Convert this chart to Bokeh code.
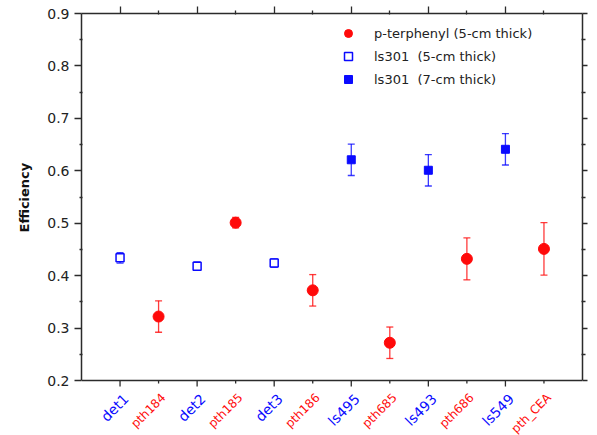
import math
from bokeh.plotting import figure
from bokeh.models import (ColumnDataSource, Whisker, LinearAxis, FixedTicker, Range1d,
                          Legend, LegendItem, Span, Title)
from bokeh.core.properties import value
from bokeh.embed import file_html
from bokeh.resources import INLINE

# Detector order along the x axis
categories = ["det1", "pth184", "det2", "pth185", "det3", "pth186",
              "ls495", "pth685", "ls493", "pth686", "ls549", "pth_CEA"]
label_colors = ["blue", "red", "blue", "red", "blue", "red",
                "blue", "red", "blue", "red", "blue", "red"]

# p-terphenyl (5-cm thick)
pt_names = ["pth184", "pth185", "pth186", "pth685", "pth686", "pth_CEA"]
pt_eff = [0.322, 0.501, 0.372, 0.272, 0.432, 0.451]
pt_err = [0.030, 0.010, 0.030, 0.030, 0.040, 0.050]

# ls301 (5-cm thick)
ls5_names = ["det1", "det2", "det3"]
ls5_eff = [0.434, 0.418, 0.424]
ls5_err = [0.010, 0.008, 0.008]

# ls301 (7-cm thick)
ls7_names = ["ls495", "ls493", "ls549"]
ls7_eff = [0.621, 0.601, 0.641]
ls7_err = [0.030, 0.030, 0.030]

Y_MIN, Y_MAX = 0.2, 0.9
RED = "#ff0a0a"
BLUE = "#0a0aff"
AXIS = "#2b2b2b"
FONT = "DejaVu Sans"

# page layout in pixels
W, H = 597, 435
LEFT, RIGHT, TOP = 81, 15, 13
AXIS_BOTTOM = 380                     # pixel row of the y = 0.2 axis line
LEGEND_TOP = 23
frame_w = W - LEFT - RIGHT
frame_h = H - TOP
plot_h = AXIS_BOTTOM - TOP
below_h = H - AXIS_BOTTOM
n = len(categories)
x_per_px = (n + 1) / frame_w
y_per_px = (Y_MAX - Y_MIN) / plot_h

pos = {name: i + 1 for i, name in enumerate(categories)}


def source(names, eff, err):
    return ColumnDataSource(dict(
        x=[pos[c] for c in names], y=eff,
        lo=[e - d for e, d in zip(eff, err)],
        hi=[e + d for e, d in zip(eff, err)],
    ))


pt_src = source(pt_names, pt_eff, pt_err)
ls5_src = source(ls5_names, ls5_eff, ls5_err)
ls7_src = source(ls7_names, ls7_eff, ls7_err)

# the frame reaches the bottom of the page so the coloured category
# names can be drawn under the x axis line
p = figure(width=W, height=H, output_backend="svg", toolbar_location=None,
           x_range=Range1d(0, n + 1),
           y_range=Range1d(Y_MIN - below_h * y_per_px, Y_MAX),
           min_border_left=LEFT, min_border_right=RIGHT, min_border_top=TOP,
           min_border_bottom=0, outline_line_color=None)
p.xgrid.visible = False
p.ygrid.visible = False
p.xaxis.visible = False

# error bars
for src, col in ((pt_src, RED), (ls5_src, BLUE), (ls7_src, BLUE)):
    w = Whisker(source=src, base="x", lower="lo", upper="hi",
                line_color=col, line_width=1.3, line_alpha=0.8)
    for head in (w.upper_head, w.lower_head):
        head.size = 7
        head.line_color = col
        head.line_width = 1.3
        head.line_alpha = 0.8
    p.add_layout(w)

r_pt = p.scatter("x", "y", source=pt_src, marker="circle", size=11,
                 fill_color=RED, line_color=RED)
r_ls5 = p.scatter("x", "y", source=ls5_src, marker="square", size=8,
                  fill_color="white", line_color=BLUE, line_width=1.5)
r_ls7 = p.scatter("x", "y", source=ls7_src, marker="square", size=8,
                  fill_color=BLUE, line_color=BLUE)

n_items = 3
legend_h = n_items * 20 + (n_items - 1) * 3
legend = Legend(items=[
    LegendItem(label="p-terphenyl (5-cm thick)", renderers=[r_pt]),
    LegendItem(label="ls301  (5-cm thick)", renderers=[r_ls5]),
    LegendItem(label="ls301  (7-cm thick)", renderers=[r_ls7]),
], location=(257, frame_h - (LEGEND_TOP - TOP) - legend_h),
    border_line_color=None, background_fill_alpha=0, padding=0, margin=0,
    spacing=3, label_height=20, glyph_height=20, glyph_width=20,
    label_standoff=16, label_text_font=FONT, label_text_font_size="13px",
    label_text_color="#222222")
p.add_layout(legend)

major_x = [pos[c] for c in categories[0::2]]
minor_x = [pos[c] for c in categories[1::2]]
y_major = [0.2, 0.3, 0.4, 0.5, 0.6, 0.7, 0.8, 0.9]
y_minor = [0.25, 0.35, 0.45, 0.55, 0.65, 0.75, 0.85]


def style(ax, major_out, minor_out):
    ax.axis_line_color = AXIS
    ax.axis_line_width = 1.5
    ax.major_tick_line_color = AXIS
    ax.minor_tick_line_color = AXIS
    ax.major_tick_line_width = 1.3
    ax.minor_tick_line_width = 1.3
    ax.major_tick_in = 0
    ax.major_tick_out = major_out
    ax.minor_tick_in = 1
    ax.minor_tick_out = minor_out


# left axis
ly = p.yaxis[0]
ly.bounds = (Y_MIN, Y_MAX)
ly.ticker = FixedTicker(ticks=y_major, minor_ticks=y_minor)
style(ly, 7, 2)
ly.major_label_text_font = FONT
ly.major_label_text_font_size = "14px"
ly.major_label_text_color = "#222222"
ly.major_label_standoff = 5

# axis title, centred on the 0.2 - 0.9 span rather than on the whole frame
label_len = 71
p.add_layout(Title(text="Efficiency", align="left",
                   offset=(H - (TOP + AXIS_BOTTOM) / 2) - label_len / 2,
                   text_font=FONT, text_font_style="bold",
                   text_font_size="13px", text_color="#111111",
                   standoff=25), "left")

# right and top axes closing the frame
ry = LinearAxis(ticker=FixedTicker(ticks=y_major, minor_ticks=y_minor),
                bounds=(Y_MIN, Y_MAX), major_label_text_alpha=0,
                major_label_text_font_size="0px")
style(ry, 5, 3)
p.add_layout(ry, "right")

tx = LinearAxis(ticker=FixedTicker(ticks=major_x, minor_ticks=minor_x),
                major_label_text_alpha=0, major_label_text_font_size="0px")
style(tx, 7, 3)
p.add_layout(tx, "above")

# bottom axis line with its outward ticks
p.add_layout(Span(location=Y_MIN, dimension="width", line_color=AXIS,
                  line_width=1.5))
p.segment(x0=major_x, x1=major_x, y0=[Y_MIN] * len(major_x),
          y1=[Y_MIN - 6 * y_per_px] * len(major_x),
          line_color=AXIS, line_width=1.3)
p.segment(x0=minor_x, x1=minor_x, y0=[Y_MIN] * len(minor_x),
          y1=[Y_MIN - 3 * y_per_px] * len(minor_x),
          line_color=AXIS, line_width=1.3)

# rotated category names, blue for liquid scintillators, red for p-terphenyl
for colour, tint, size, dx, dy in (("blue", BLUE, "14px", 6, 16),
                                   ("red", RED, "12px", 5, 15)):
    names = [c for c, k in zip(categories, label_colors) if k == colour]
    p.text(x=[pos[c] + dx * x_per_px for c in names],
           y=[Y_MIN - dy * y_per_px] * len(names), text=names,
           angle=math.pi / 4, text_align="right", text_baseline="middle",
           text_font=value(FONT), text_font_size=size, text_color=tint)

open("out.html", "w").write(file_html(p, INLINE))
